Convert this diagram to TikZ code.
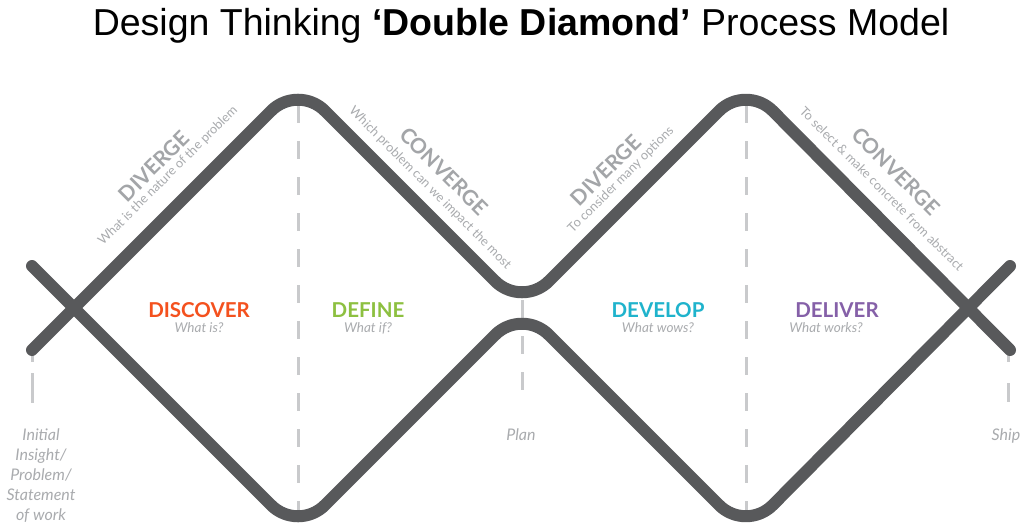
\documentclass[tikz,border=0pt]{standalone}
\usepackage{fontspec}
\setmainfont{Lato}
\newfontfamily\titlefont{Liberation Sans}
\definecolor{linegray}{HTML}{58595B}
\definecolor{dashgray}{HTML}{C9CACC}
\definecolor{labgray}{HTML}{A3A5A8}
\definecolor{subgray}{HTML}{A9ABAE}
\definecolor{discover}{HTML}{F4511E}
\definecolor{define}{HTML}{8DC040}
\definecolor{develop}{HTML}{1FB3CC}
\definecolor{deliver}{HTML}{8560A8}
\tikzset{
  wave/.style={line width=12pt, draw=linegray, line cap=round, line join=round, rounded corners=38pt},
  dashline/.style={line width=3pt, draw=dashgray, dash pattern=on 18pt off 18pt},
  phase/.style={font=\bfseries\fontsize{20.5}{20.5}\selectfont, inner sep=0pt},
  phasesub/.style={font=\itshape\fontsize{13.5}{13.5}\selectfont, text=subgray, inner sep=0pt},
  mode/.style={font=\bfseries\fontsize{21}{21}\selectfont, text=labgray, inner sep=0pt},
  modesub/.style={font=\fontsize{12.8}{12.8}\selectfont, text=subgray, inner sep=0pt},
  milestone/.style={font=\itshape\fontsize{16}{20}\selectfont, text=subgray, align=center, inner sep=0pt, anchor=north},
  titlestyle/.style={font=\titlefont\fontsize{37.5}{37.5}\selectfont, text=black, inner sep=0pt, anchor=base}
}
\begin{document}
\begin{tikzpicture}[x=1pt,y=-1pt]
\useasboundingbox[fill=white] (0,0) rectangle (1024,524);
% vertices
\coordinate (L1) at (32,266);
\coordinate (L2) at (32,350);
\coordinate (T1) at (298,84);
\coordinate (B1) at (298,532);
\coordinate (M)  at (522,308);
\coordinate (T2) at (746,84);
\coordinate (B2) at (746,532);
\coordinate (R1) at (1010,266);
\coordinate (R2) at (1010,350);
% dash ends
\coordinate (d1a) at (298,105);
\coordinate (d1b) at (298,518);
\coordinate (d2a) at (746,105);
\coordinate (d2b) at (746,518);
\coordinate (dma) at (522,300);
\coordinate (dmb) at (522,400);
\coordinate (dla) at (32,344);
\coordinate (dlb) at (32,403);
\coordinate (dra) at (1008,344);
\coordinate (drb) at (1008,402);
% dashed lines
\draw[dashline] (d1a) -- (d1b);
\draw[dashline] (d2a) -- (d2b);
\draw[dashline] (dma) -- (dmb);
\draw[dashline, dash pattern=on 18pt off 11pt on 30pt off 40pt] (dla) -- (dlb);
\draw[dashline, dash pattern=on 18pt off 21pt on 20pt off 40pt] (dra) -- (drb);
% waves
\draw[wave] (L2) -- (T1) -- (M) -- (T2) -- (R2);
\draw[wave] (L1) -- (B1) -- (M) -- (B2) -- (R1);
% title
\node[titlestyle] (title) at (521,36) {Design Thinking \textbf{‘Double Diamond’} Process Model};
% diverge / converge
\node[mode, rotate=45] (dv1) at (154,166) {DIVERGE};
\node[modesub, rotate=45] (dv1s) at (168,176) {What is the nature of the problem};
\node[mode, rotate=-45] (cv1) at (444,171) {CONVERGE};
\node[modesub, rotate=-45] (cv1s) at (430,188) {Which problem can we impact the most};
\node[mode, rotate=45] (dv2) at (606,170) {DIVERGE};
\node[modesub, rotate=45] (dv2s) at (621,180) {To consider many options};
\node[mode, rotate=-45] (cv2) at (896,171) {CONVERGE};
\node[modesub, rotate=-45] (cv2s) at (882,189) {To select \& make concrete from abstract};
% phases
\node[phase, text=discover] (p1) at (199,310) {DISCOVER};
\node[phasesub] (p1s) at (199,328) {What is?};
\node[phase, text=define] (p2) at (368,310) {DEFINE};
\node[phasesub] (p2s) at (368,328) {What if?};
\node[phase, text=develop] (p3) at (658,310) {DEVELOP};
\node[phasesub] (p3s) at (658,328) {What wows?};
\node[phase, text=deliver] (p4) at (837,310) {DELIVER};
\node[phasesub] (p4s) at (826,328) {What works?};
% milestones
\node[milestone] (m1) at (41,429) {Initial\\Insight/\\Problem/\\Statement\\of work};
\node[milestone] (m2) at (521,429) {Plan};
\node[milestone] (m3) at (1006,429) {Ship};
\end{tikzpicture}
\end{document}
